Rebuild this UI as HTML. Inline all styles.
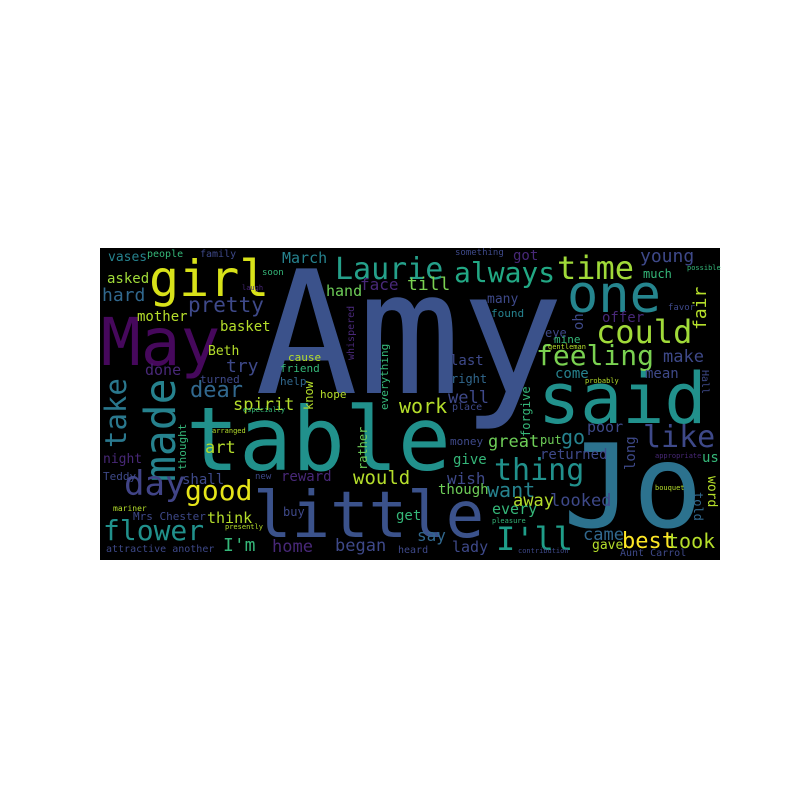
<!DOCTYPE html>
<html><head><meta charset="utf-8"><style>
html,body{margin:0;padding:0;background:#fff;width:800px;height:800px;overflow:hidden}
svg text{font-family:"DejaVu Sans Mono","Liberation Mono",monospace}
</style></head><body>
<svg width="800" height="800" viewBox="0 0 800 800" xmlns="http://www.w3.org/2000/svg">
<rect x="100" y="248" width="620" height="312" fill="#000"/>
<g>
<text x="255" y="393" font-size="171" fill="#3b528b">Amy</text>
<text x="186" y="470" font-size="88" fill="#21918c">table</text>
<text x="253" y="537" font-size="64" fill="#3b528b">little</text>
<text x="563" y="527" font-size="116" fill="#2c728e">Jo</text>
<text x="538" y="423" font-size="70" fill="#21918c">said</text>
<text x="101" y="365" font-size="66" fill="#46085c">May</text>
<text x="149" y="296" font-size="50" fill="#d8e219">girl</text>
<text x="567" y="312" font-size="52" fill="#25858e">one</text>
<text x="335" y="279" font-size="30" fill="#25a08a">Laurie</text>
<text x="557" y="279" font-size="32" fill="#a0da39">time</text>
<text x="454" y="282" font-size="28" fill="#22a884">always</text>
<text x="596" y="343" font-size="32" fill="#a0da39">could</text>
<text x="536" y="365" font-size="28" fill="#7ad151">feeling</text>
<text transform="translate(175,482) rotate(-90)" font-size="43" fill="#26828e">made</text>
<text transform="translate(126,448) rotate(-90)" font-size="29" fill="#2a788e">take</text>
<text x="124" y="495" font-size="34" fill="#414487">day</text>
<text x="185" y="500" font-size="28" fill="#e5e419">good</text>
<text x="103" y="540" font-size="28" fill="#21918c">flower</text>
<text x="494" y="480" font-size="30" fill="#21918c">thing</text>
<text x="496" y="550" font-size="32" fill="#1f9e89">I'll</text>
<text x="643" y="447" font-size="30" fill="#3e4989">like</text>
<text x="622" y="548" font-size="22" fill="#fde725">best</text>
<text x="667" y="548" font-size="20" fill="#b5de2b">took</text>

<text x="108" y="261" font-size="13" fill="#26828e">vases</text>
<text x="147" y="257" font-size="10" fill="#35b779">people</text>
<text x="200" y="257" font-size="10" fill="#3e4989">family</text>
<text x="282" y="263" font-size="15" fill="#26828e">March</text>
<text x="107" y="283" font-size="14" fill="#a0da39">asked</text>
<text x="102" y="301" font-size="18" fill="#31688e">hard</text>
<text x="360" y="290" font-size="16" fill="#482878">face</text>
<text x="326" y="296" font-size="15" fill="#6ece58">hand</text>
<text x="188" y="312" font-size="21" fill="#3e4989">pretty</text>
<text x="137" y="321" font-size="14" fill="#b5de2b">mother</text>
<text x="220" y="331" font-size="14" fill="#b5de2b">basket</text>
<text x="208" y="355" font-size="13" fill="#b5de2b">Beth</text>
<text x="145" y="375" font-size="15" fill="#482878">done</text>
<text x="226" y="372" font-size="18" fill="#3e4989">try</text>
<text x="200" y="383" font-size="11" fill="#3e4989">turned</text>
<text x="288" y="361" font-size="11" fill="#b5de2b">cause</text>
<text x="280" y="372" font-size="11" fill="#35b779">friend</text>
<text x="280" y="385" font-size="11" fill="#31688e">help</text>
<text x="190" y="397" font-size="22" fill="#31688e">dear</text>
<text x="233" y="410" font-size="17" fill="#b5de2b">spirit</text>
<text x="320" y="398" font-size="11" fill="#b5de2b">hope</text>
<text transform="translate(313,410) rotate(-90)" font-size="12" fill="#b5de2b">know</text>
<text transform="translate(354,360) rotate(-90)" font-size="10" fill="#482878">whispered</text>
<text transform="translate(388,410) rotate(-90)" font-size="11" fill="#35b779">everything</text>
<text x="262" y="275" font-size="9" fill="#35b779">soon</text>
<text x="455" y="255" font-size="9" fill="#3e4989">something</text>
<text x="513" y="260" font-size="14" fill="#482878">got</text>
<text x="640" y="262" font-size="18" fill="#3e4989">young</text>
<text x="407" y="290" font-size="18" fill="#7ad151">till</text>
<text x="643" y="278" font-size="12" fill="#35b779">much</text>
<text transform="translate(706,330) rotate(-90)" font-size="18" fill="#b5de2b">fair</text>
<text x="487" y="303" font-size="13" fill="#3e4989">many</text>
<text x="491" y="317" font-size="11" fill="#26828e">found</text>
<text x="602" y="322" font-size="14" fill="#482878">offer</text>
<text transform="translate(583,330) rotate(-90)" font-size="14" fill="#3e4989">oh</text>
<text x="545" y="337" font-size="12" fill="#3e4989">eye</text>
<text x="554" y="343" font-size="11" fill="#35b779">mine</text>
<text x="663" y="362" font-size="17" fill="#3e4989">make</text>
<text x="450" y="365" font-size="14" fill="#3e4989">last</text>
<text x="555" y="378" font-size="14" fill="#26828e">come</text>
<text x="645" y="378" font-size="14" fill="#3e4989">mean</text>
<text x="451" y="383" font-size="12" fill="#31688e">right</text>
<text x="448" y="403" font-size="17" fill="#3e4989">well</text>
<text x="399" y="413" font-size="20" fill="#b5de2b">work</text>
<text x="452" y="410" font-size="10" fill="#3e4989">place</text>
<text x="587" y="432" font-size="15" fill="#3e4989">poor</text>
<text x="561" y="444" font-size="20" fill="#26828e">go</text>
<text x="450" y="445" font-size="11" fill="#3e4989">money</text>
<text x="488" y="447" font-size="17" fill="#6ece58">great</text>
<text x="540" y="444" font-size="12" fill="#6ece58">put</text>
<text x="540" y="459" font-size="14" fill="#3e4989">returned</text>
<text transform="translate(635,470) rotate(-90)" font-size="14" fill="#3e4989">long</text>
<text x="453" y="464" font-size="14" fill="#35b779">give</text>
<text x="702" y="462" font-size="14" fill="#35b779">us</text>
<text x="447" y="484" font-size="16" fill="#3e4989">wish</text>
<text x="487" y="497" font-size="20" fill="#26828e">want</text>
<text x="438" y="494" font-size="14" fill="#6ece58">though</text>
<text x="513" y="506" font-size="17" fill="#b5de2b">away</text>
<text x="550" y="506" font-size="17" fill="#3e4989">looked</text>
<text x="492" y="514" font-size="15" fill="#35b779">every</text>
<text x="417" y="541" font-size="16" fill="#31688e">say</text>
<text x="452" y="552" font-size="15" fill="#3e4989">lady</text>
<text x="583" y="540" font-size="17" fill="#31688e">came</text>
<text x="592" y="549" font-size="13" fill="#b5de2b">gave</text>
<text x="620" y="556" font-size="10" fill="#3e4989">Aunt Carrol</text>
<text transform="translate(708,476) rotate(90)" font-size="13" fill="#b5de2b">word</text>
<text transform="translate(694,492) rotate(90)" font-size="12" fill="#31688e">told</text>
<text x="103" y="463" font-size="13" fill="#482878">night</text>
<text transform="translate(186,470) rotate(-90)" font-size="11" fill="#35b779">thought</text>
<text x="205" y="453" font-size="17" fill="#b5de2b">art</text>
<text x="182" y="484" font-size="14" fill="#3e4989">shall</text>
<text x="103" y="480" font-size="11" fill="#3e4989">Teddy</text>
<text x="255" y="479" font-size="9" fill="#3e4989">new</text>
<text x="281" y="481" font-size="14" fill="#482878">reward</text>
<text x="353" y="484" font-size="19" fill="#b5de2b">would</text>
<text transform="translate(367,470) rotate(-90)" font-size="12" fill="#6ece58">rather</text>
<text x="133" y="520" font-size="11" fill="#3e4989">Mrs Chester</text>
<text x="207" y="523" font-size="15" fill="#b5de2b">think</text>
<text x="283" y="516" font-size="12" fill="#3e4989">buy</text>
<text x="396" y="520" font-size="14" fill="#35b779">get</text>
<text x="223" y="551" font-size="18" fill="#35b779">I'm</text>
<text x="272" y="552" font-size="17" fill="#482878">home</text>
<text x="335" y="551" font-size="17" fill="#3e4989">began</text>
<text x="398" y="553" font-size="10" fill="#3e4989">heard</text>
<text x="106" y="552" font-size="10" fill="#3e4989">attractive another</text>
<text transform="translate(530,437) rotate(-90)" font-size="12" fill="#35b779">forgive</text>
<text transform="translate(702,370) rotate(90)" font-size="10" fill="#3e4989">Hall</text>
<text x="668" y="310" font-size="9" fill="#3e4989">favor</text>
<text x="687" y="270" font-size="7" fill="#35b779">possible</text>
<text x="548" y="349" font-size="7" fill="#b5de2b">gentleman</text>
<text x="585" y="383" font-size="7" fill="#b5de2b">probably</text>
<text x="242" y="290" font-size="7" fill="#482878">laugh</text>
<text x="113" y="511" font-size="8" fill="#b5de2b">mariner</text>
<text x="225" y="529" font-size="7" fill="#b5de2b">presently</text>
<text x="243" y="412" font-size="7" fill="#35b779">especially</text>
<text x="212" y="433" font-size="7" fill="#b5de2b">arranged</text>
<text x="492" y="523" font-size="7" fill="#35b779">pleasure</text>
<text x="518" y="553" font-size="7" fill="#3e4989">contribution</text>
<text x="655" y="490" font-size="7" fill="#b5de2b">bouquet</text>
<text x="655" y="458" font-size="7" fill="#482878">appropriate</text>
</g>
</svg>
</body></html>
